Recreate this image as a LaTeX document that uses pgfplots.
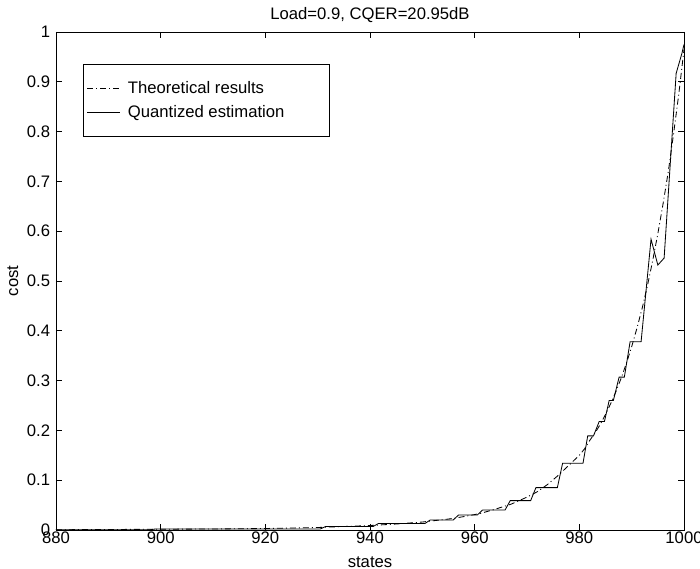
\documentclass[border=0pt]{standalone}
\usepackage{pgfplots}
\pgfplotsset{compat=1.18}
\usepackage{fontspec}
\setmainfont{Liberation Sans}
\begin{document}
\begin{tikzpicture}
\begin{axis}[
  at={(0pt,0pt)}, anchor=south west,
  scale only axis,
  width=376.8pt, height=298.8pt,
  xmin=880, xmax=1000, ymin=0, ymax=1,
  xtick={880,900,...,1000},
  ytick={0,0.1,...,1},
  yticklabels={0,0.1,0.2,0.3,0.4,0.5,0.6,0.7,0.8,0.9,1},
  /pgf/number format/assume math mode=true,
  /pgf/number format/1000 sep={},
  tick align=inside,
  major tick length=3.6pt,
  tick style={black, line width=0.5pt},
  axis line style={line width=0.5pt},
  every tick label/.append style={font=\fontsize{10}{12}\selectfont},
  xticklabel style={yshift=2.5pt},
  xlabel={states}, ylabel={cost},
  label style={font=\fontsize{10}{12}\selectfont},
  xlabel style={yshift=-1.2pt},
  ylabel style={yshift=-1.6pt},
  title={Load=0.9, CQER=20.95dB},
  title style={font=\fontsize{10}{12}\selectfont, yshift=-4pt},
  legend image code/.code={\draw[#1] (0pt,0pt) -- (19.5pt,0pt);},
  legend style={at={(0.0435,0.935)}, anchor=north west, draw=black, line width=0.5pt,
    font=\fontsize{10}{12}\selectfont, inner xsep=2pt, inner ysep=8pt, row sep=1.5pt,
    column sep=2.5pt},
  legend cell align=left,
]
\addplot[black, line width=0.5pt, dash pattern=on 3.6pt off 1.8pt on 0.6pt off 1.8pt] coordinates {
(880,0.0005) (890,0.001) (900,0.0015) (910,0.002) (920,0.003) (930,0.005) (935,0.007)
(940,0.009) (945,0.012) (950,0.016) (955,0.022) (958,0.027) (961,0.033) (964,0.042)
(967,0.052) (970,0.066) (972,0.077) (974,0.092) (976,0.110) (978,0.130) (980,0.150)
(981,0.163) (982,0.180) (983,0.195) (984,0.212) (985,0.232) (986,0.254) (987,0.278)
(988,0.305) (989,0.335) (990,0.368) (991,0.405) (992,0.445) (993,0.49) (994,0.54)
(995,0.595) (996,0.655) (997,0.72) (998,0.795) (999,0.875) (1000,0.965)
};
\addlegendentry{\makebox[117pt][l]{Theoretical results}}
\addplot[black, line width=0.5pt] coordinates {
(880,0.0005) (898,0.0005) (899,0.002) (930.5,0.002) (931.5,0.007) (940.6,0.007)
(941.6,0.013) (950.5,0.013) (951.5,0.02) (955.9,0.02) (956.9,0.03) (960.5,0.03)
(961.5,0.04) (965.8,0.04) (966.8,0.059) (970.7,0.059) (971.7,0.085) (975.8,0.085)
(976.8,0.134) (980.7,0.134) (981.6,0.189) (982.7,0.189) (983.8,0.218) (984.8,0.218)
(985.7,0.26) (986.5,0.26) (987.6,0.307) (988.6,0.307) (989.7,0.378) (991.8,0.378)
(993.7,0.584) (995.0,0.532) (996.2,0.546) (998.5,0.917) (999.6,0.957) (1000,0.975)
};
\addlegendentry{\makebox[117pt][l]{Quantized estimation}}
\end{axis}
\pgfresetboundingbox
\path[use as bounding box] (-33.6pt,-23.4pt) rectangle (386.4pt,318pt);
\end{tikzpicture}
\end{document}
